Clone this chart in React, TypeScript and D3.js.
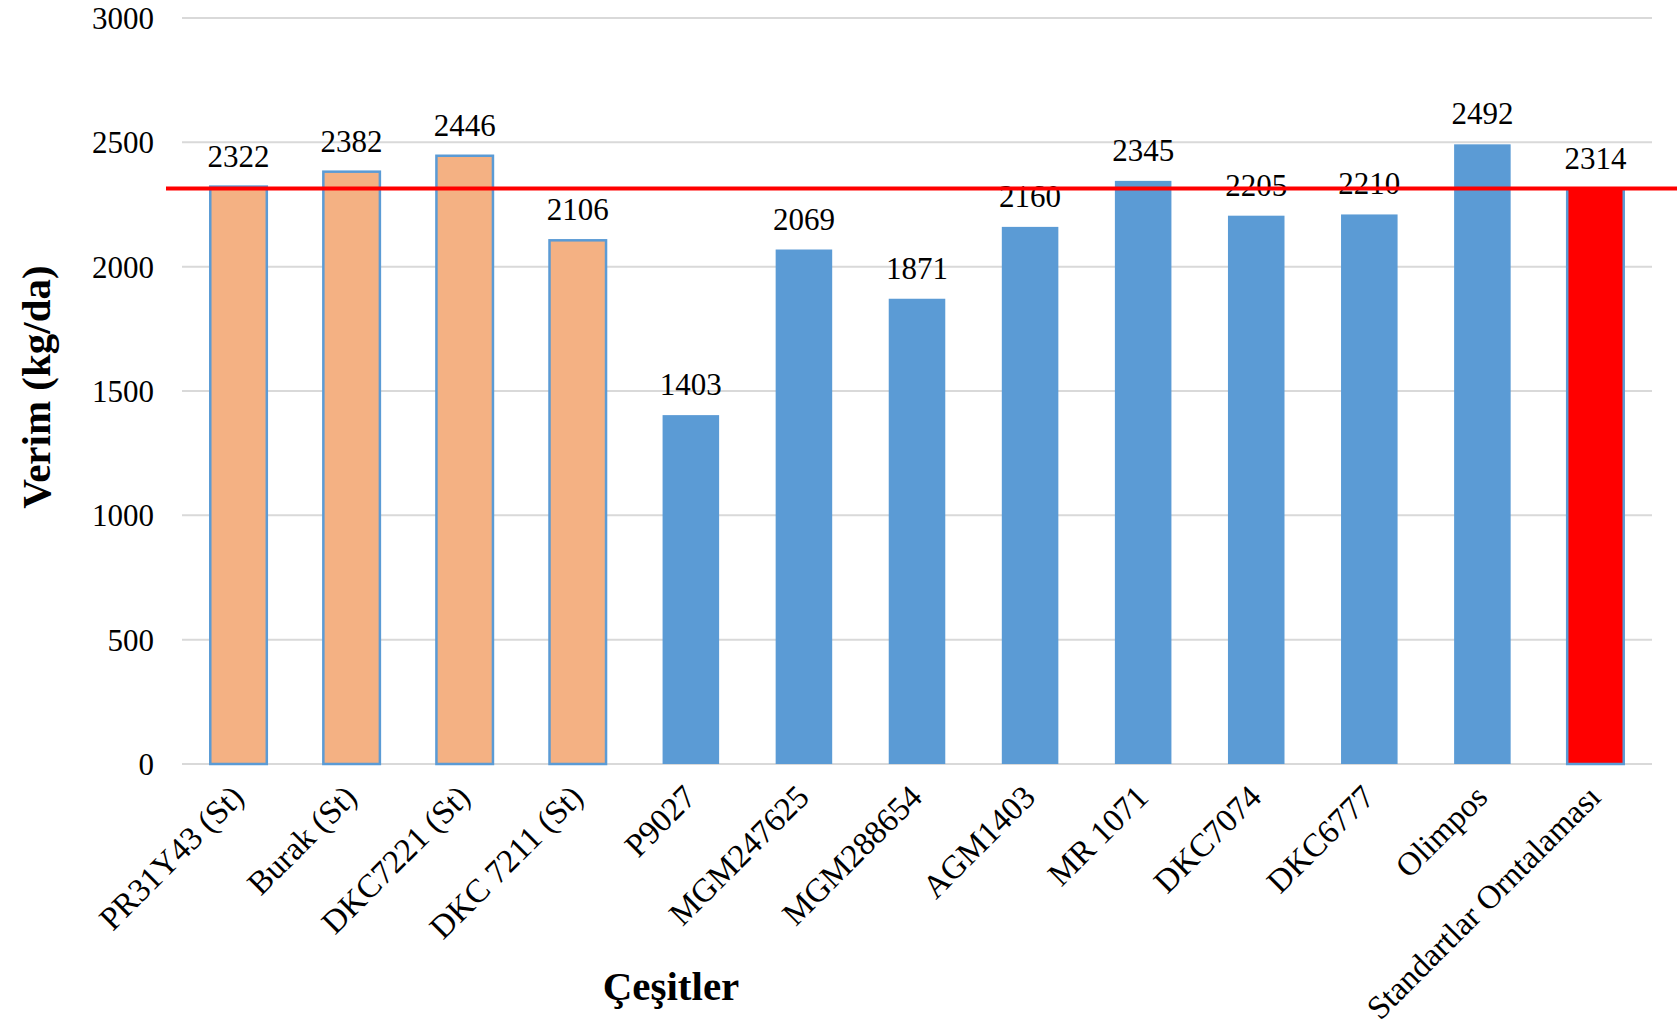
import * as d3 from "d3";

const categories = [
  "PR31Y43 (St)",
  "Burak (St)",
  "DKC7221 (St)",
  "DKC 7211 (St)",
  "P9027",
  "MGM247625",
  "MGM288654",
  "AGM1403",
  "MR 1071",
  "DKC7074",
  "DKC6777",
  "Olimpos",
  "Standartlar Orntalaması",
];
const values = [2322, 2382, 2446, 2106, 1403, 2069, 1871, 2160, 2345, 2205, 2210, 2492, 2314];
const groups = ["st", "st", "st", "st", "c", "c", "c", "c", "c", "c", "c", "c", "avg"];
const yTicks = [0, 500, 1000, 1500, 2000, 2500, 3000];
const meanLine = 2314;

const W = 1677;
const H = 1025;
const margin = { top: 18, right: 25, bottom: 261, left: 182 };
const font = "'Liberation Serif', 'Times New Roman', serif";

const fills: Record<string, string> = { st: "#F4B183", c: "#5B9BD5", avg: "#FF0000" };

export default function App() {
  const x = d3
    .scaleBand<string>()
    .domain(categories)
    .range([margin.left, W - margin.right])
    .paddingInner(0.5)
    .paddingOuter(0.25);

  const y = d3
    .scaleLinear()
    .domain([0, 3000])
    .range([H - margin.bottom, margin.top]);

  const bw = x.bandwidth();

  return (
    <svg
      width={W}
      height={H}
      style={{ position: "absolute", left: 0, top: 0, background: "#fff" }}
      fontFamily={font}
    >
      {/* gridlines */}
      {yTicks.map((t) => (
        <line
          key={t}
          x1={margin.left}
          x2={W - margin.right}
          y1={y(t)}
          y2={y(t)}
          stroke="#D9D9D9"
          strokeWidth={2}
        />
      ))}
      {yTicks.map((t) => (
        <text key={"l" + t} x={154} y={y(t)} dy="0.35em" textAnchor="end" fontSize={31} fill="#000">
          {t}
        </text>
      ))}

      {/* bars */}
      {categories.map((c, i) => (
        <rect
          key={c}
          x={x(c)!}
          y={y(values[i])}
          width={bw}
          height={y(0) - y(values[i])}
          fill={fills[groups[i]]}
          stroke="#5B9BD5"
          strokeWidth={groups[i] === "c" ? 0 : 2.5}
        />
      ))}

      {/* data labels */}
      {categories.map((c, i) => (
        <text
          key={"v" + c}
          x={x(c)! + bw / 2}
          y={y(values[i]) - 20}
          textAnchor="middle"
          fontSize={31}
          fill="#000"
        >
          {values[i]}
        </text>
      ))}

      {/* standards mean line */}
      <line x1={166} x2={W} y1={y(meanLine)} y2={y(meanLine)} stroke="#FF0000" strokeWidth={4} />

      {/* category labels */}
      {categories.map((c) => {
        const cx = x(c)! + bw / 2 + 7;
        const cy = y(0) + 35;
        return (
          <text
            key={"c" + c}
            transform={`translate(${cx},${cy}) rotate(-45)`}
            textAnchor="end"
            fontSize={33}
            fill="#000"
          >
            {c}
          </text>
        );
      })}

      {/* axis titles */}
      <text
        transform={`translate(50,${387}) rotate(-90)`}
        textAnchor="middle"
        fontSize={41}
        fontWeight="bold"
        fill="#000"
      >
        Verim (kg/da)
      </text>
      <text x={671} y={1000} textAnchor="middle" fontSize={41} fontWeight="bold" fill="#000">
        Çeşitler
      </text>
    </svg>
  );
}
